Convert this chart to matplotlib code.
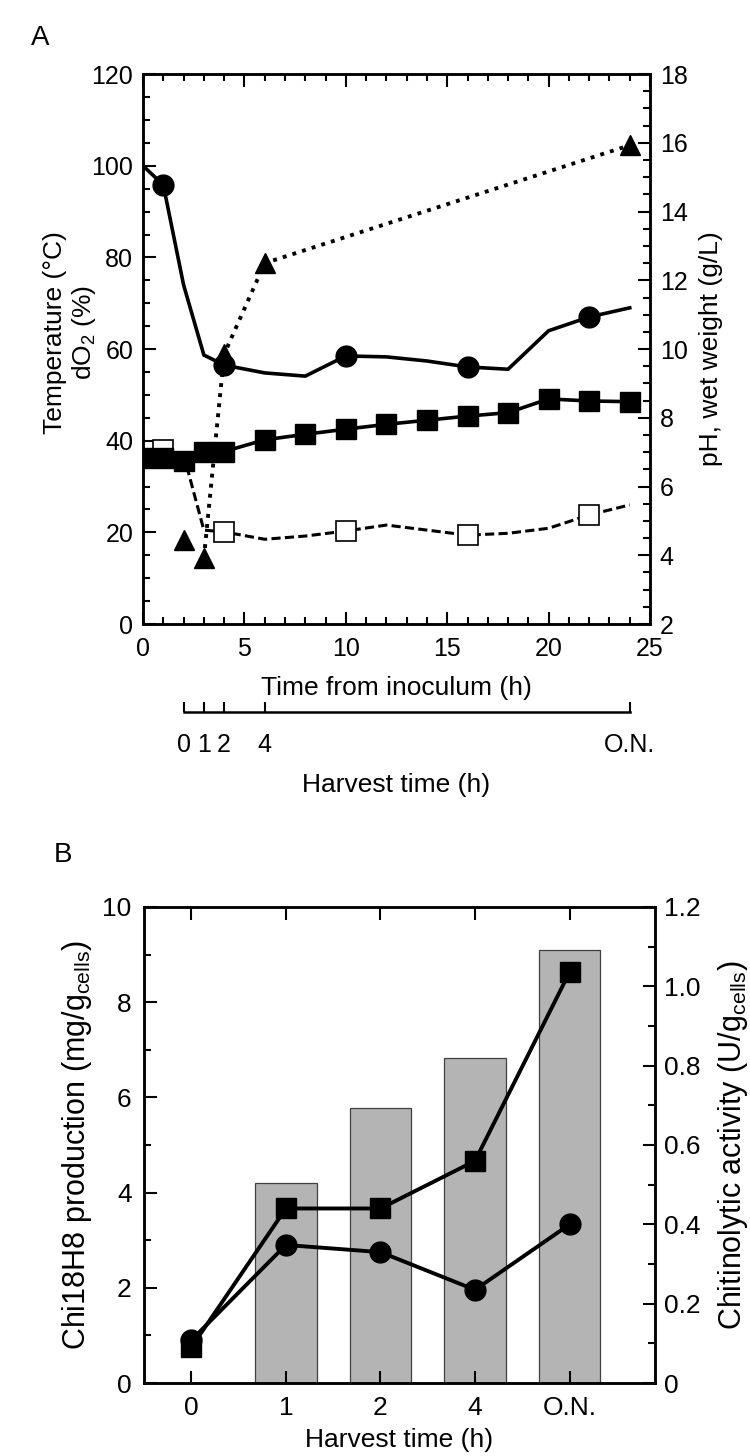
import matplotlib
matplotlib.use("Agg")
import matplotlib.pyplot as plt
from matplotlib.ticker import MultipleLocator

plt.rcParams['font.family'] = ['Liberation Sans', 'DejaVu Sans']
plt.rcParams['mathtext.fontset'] = 'custom'
plt.rcParams['mathtext.rm'] = 'Liberation Sans'
plt.rcParams['mathtext.it'] = 'Liberation Sans'

# ---- panel A data ----
t_run = [0, 1, 2, 3, 4, 6, 8, 10, 12, 14, 16, 18, 20, 22, 24]
dO2 = [100, 95.8, 74, 58.7, 56.5, 54.8, 54.1, 58.5, 58.3, 57.4, 56.1, 55.6, 64, 67, 69]
temp = [37, 38, 37, 20.5, 20.1, 18.5, 19.2, 20.3, 21.6, 20.5, 19.4, 19.8, 20.9, 23.8, 26]
pH = [6.83, 6.83, 6.74, 7.0, 7.02, 7.36, 7.52, 7.67, 7.81, 7.93, 8.05, 8.15, 8.55, 8.49, 8.47]
mark_idx = [1, 4, 7, 10, 13]          # points carrying circle / open square markers
t_ww = [2, 3, 4, 6, 24]
wet_weight = [4.44, 3.92, 9.85, 12.5, 15.93]
harvest_pos = [2, 3, 4, 6, 24]
harvest_lab = ['0', '1', '2', '4', 'O.N.']

# ---- panel B data ----
harvest = ['0', '1', '2', '4', 'O.N.']
production = [0, 4.2, 5.78, 6.82, 9.1]
act_sq = [0.09, 0.44, 0.44, 0.56, 1.036]
act_ci = [0.108, 0.348, 0.33, 0.235, 0.4]

FS = 18

fig = plt.figure(figsize=(7.5, 14.56), dpi=100)

# ================= A =================
ax = fig.add_axes([0.1907, 0.5714, 0.676, 0.3777])
axr = ax.twinx()

ax.plot(t_run, temp, color='k', lw=2.2, ls=(0, (3, 1.4)), zorder=3)
ax.plot([t_run[i] for i in mark_idx], [temp[i] for i in mark_idx], 's', ms=14,
        mfc='white', mec='k', mew=1.2, zorder=4)
ax.plot(t_run, dO2, color='k', lw=2.6, zorder=3)
ax.plot([t_run[i] for i in mark_idx], [dO2[i] for i in mark_idx], 'o', ms=15,
        color='k', zorder=4)

axr.plot(t_run, pH, 's-', color='k', lw=2.6, ms=15)
axr.plot(t_ww[1:], wet_weight[1:], color='k', lw=2.8, ls=(0, (1, 1.6)))
axr.plot(t_ww, wet_weight, '^', color='k', ms=14)

ax.set_xlim(0, 25)
ax.set_ylim(0, 120)
axr.set_ylim(2, 18)
ax.xaxis.set_major_locator(MultipleLocator(5))
ax.xaxis.set_minor_locator(MultipleLocator(1))
ax.yaxis.set_major_locator(MultipleLocator(20))
ax.yaxis.set_minor_locator(MultipleLocator(5))
axr.yaxis.set_major_locator(MultipleLocator(2))
axr.yaxis.set_minor_locator(MultipleLocator(0.5))
ax.tick_params(which='both', direction='in', top=True, width=1.5, labelsize=FS, pad=7)
ax.tick_params(axis='x', pad=9)
ax.tick_params(which='major', length=9)
ax.tick_params(which='minor', length=5)
axr.tick_params(which='both', direction='in', width=1.5, labelsize=FS, pad=7)
axr.tick_params(which='major', length=9)
axr.tick_params(which='minor', length=5)
for a in (ax, axr):
    for s in a.spines.values():
        s.set_linewidth(1.8)

ax.set_xlabel('Time from inoculum (h)', fontsize=19, labelpad=11)
ax.set_ylabel('Temperature (°C)\ndO$_2$ (%)', fontsize=19, linespacing=1.15)
ax.yaxis.set_label_coords(-0.088, 0.53)
axr.set_ylabel('pH, wet weight (g/L)', fontsize=19, labelpad=8)
fig.text(0.053, 0.974, 'A', fontsize=20, ha='center', va='center')

# harvest time axis under panel A
axh = fig.add_axes([0.1907, 0.511, 0.676, 0.0005])
axh.set_xlim(0, 25)
axh.set_yticks([])
for k in ('left', 'right', 'top'):
    axh.spines[k].set_visible(False)
axh.spines['bottom'].set_bounds(harvest_pos[0], harvest_pos[-1])
axh.spines['bottom'].set_linewidth(1.8)
axh.set_xticks(harvest_pos)
axh.set_xticklabels(harvest_lab, fontsize=FS)
axh.tick_params(axis='x', direction='in', length=7, width=1.5, pad=15)
axh.set_xlabel('Harvest time (h)', fontsize=19, labelpad=12)
axh.patch.set_visible(False)

# ================= B =================
bx = fig.add_axes([0.192, 0.0501, 0.681, 0.327])
bxr = bx.twinx()
pos = list(range(len(harvest)))
bx.bar(pos, production, width=0.65, color='#b4b4b4', edgecolor='#404040', lw=0.9)
bxr.plot(pos, act_sq, 's-', color='k', lw=2.8, ms=15)
bxr.plot(pos, act_ci, 'o-', color='k', lw=2.8, ms=15)

bx.set_xlim(-0.5, 4.9)
bx.set_ylim(0, 10)
bxr.set_ylim(0, 1.2)
bx.set_xticks(pos)
bx.set_xticklabels(harvest)
bx.yaxis.set_major_locator(MultipleLocator(2))
bx.yaxis.set_minor_locator(MultipleLocator(1))
bxr.yaxis.set_minor_locator(MultipleLocator(0.1))
bxr.set_yticks([0, 0.2, 0.4, 0.6, 0.8, 1.0, 1.2])
bxr.set_yticklabels(['0', '0.2', '0.4', '0.6', '0.8', '1.0', '1.2'])
bx.tick_params(which='both', direction='in', top=True, width=1.5, labelsize=19, pad=9)
bx.tick_params(which='major', length=9)
bx.tick_params(which='minor', length=5)
bxr.tick_params(which='both', direction='in', width=1.5, labelsize=19, pad=7)
bxr.tick_params(which='major', length=9)
bxr.tick_params(which='minor', length=5)
for a in (bx, bxr):
    for s in a.spines.values():
        s.set_linewidth(1.8)

bx.set_xlabel('Harvest time (h)', fontsize=19, labelpad=6)
bx.set_ylabel('Chi18H8 production (mg/g$_{\\mathrm{cells}}$)', fontsize=22, labelpad=6)
bxr.set_ylabel('Chitinolytic activity (U/g$_{\\mathrm{cells}}$)', fontsize=22, labelpad=11)
fig.text(0.084, 0.413, 'B', fontsize=20, ha='center', va='center')

fig.savefig('out.png', dpi=100)
